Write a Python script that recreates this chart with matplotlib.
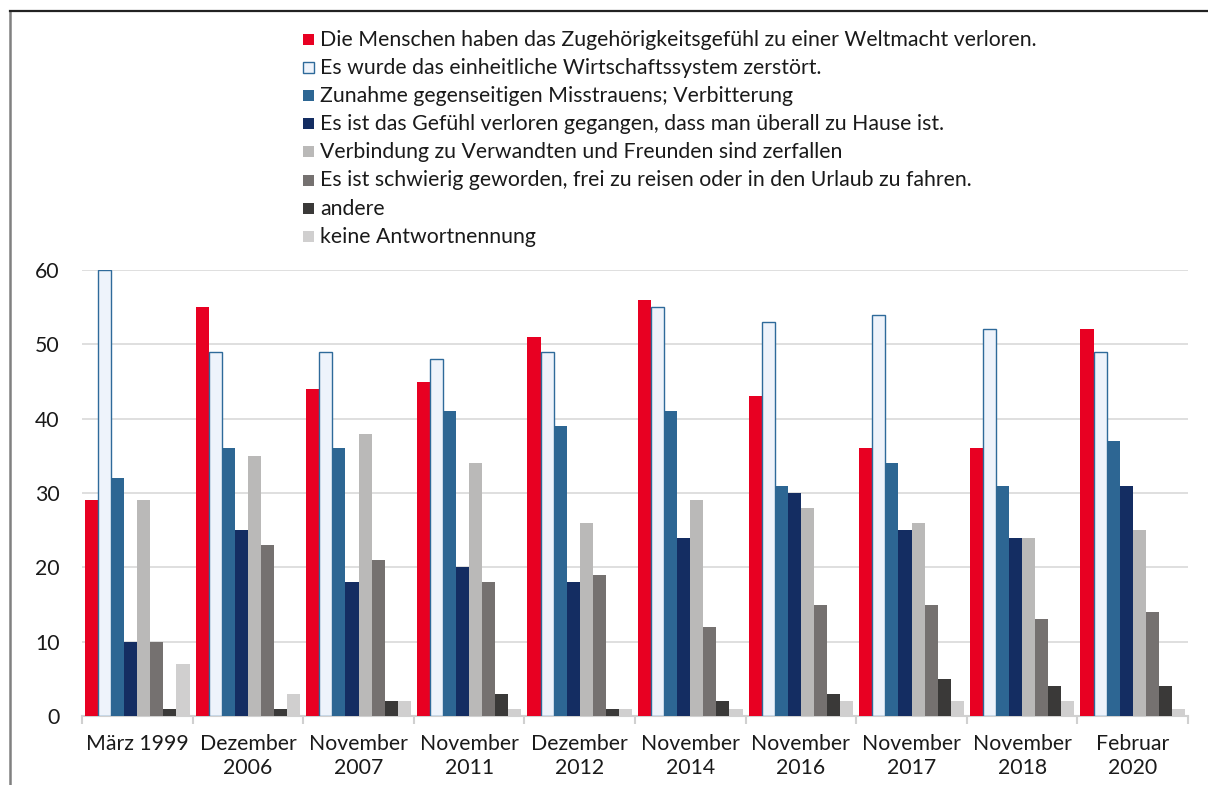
import numpy as np
import matplotlib
matplotlib.use("Agg")
import matplotlib.pyplot as plt
from matplotlib.patches import Rectangle
from matplotlib.lines import Line2D

plt.rcParams['font.family'] = ['Lato', 'DejaVu Sans']

categories = ["März 1999", "Dezember\n2006", "November\n2007", "November\n2011",
              "Dezember\n2012", "November\n2014", "November\n2016", "November\n2017",
              "November\n2018", "Februar\n2020"]

series_labels = [
    "Die Menschen haben das Zugehörigkeitsgefühl zu einer Weltmacht verloren.",
    "Es wurde das einheitliche Wirtschaftssystem zerstört.",
    "Zunahme gegenseitigen Misstrauens; Verbitterung",
    "Es ist das Gefühl verloren gegangen, dass man überall zu Hause ist.",
    "Verbindung zu Verwandten und Freunden sind zerfallen",
    "Es ist schwierig geworden, frei zu reisen oder in den Urlaub zu fahren.",
    "andere",
    "keine Antwortnennung",
]

weltmacht = [29, 55, 44, 45, 51, 56, 43, 36, 36, 52]
wirtschaft = [60, 49, 49, 48, 49, 55, 53, 54, 52, 49]
misstrauen = [32, 36, 36, 41, 39, 41, 31, 34, 31, 37]
zuhause = [10, 25, 18, 20, 18, 24, 30, 25, 24, 31]
verwandte = [29, 35, 38, 34, 26, 29, 28, 26, 24, 25]
reisen = [10, 23, 21, 18, 19, 12, 15, 15, 13, 14]
andere = [1, 1, 2, 3, 1, 2, 3, 5, 4, 4]
keine = [7, 3, 2, 1, 1, 1, 2, 2, 2, 1]

series = [weltmacht, wirtschaft, misstrauen, zuhause, verwandte, reisen, andere, keine]
fills = ["#E80022", "#EEF3FB", "#2D6693", "#142D62", "#BAB9B8", "#757170", "#3A3938", "#D0CFCF"]
edges = ["#E80022", "#2E6A9A", "#2D6693", "#142D62", "#BAB9B8", "#757170", "#3A3938", "#D0CFCF"]

fs = 15.3

fig = plt.figure(figsize=(12.08, 7.85), dpi=100)
ax = fig.add_axes([82 / 1208, 1 - 716 / 785, (1188 - 82) / 1208, (716 - 270) / 785])

x = np.arange(len(categories))
w = 0.118
for i, vals in enumerate(series):
    lw = 1.0 if i == 1 else 0
    ax.bar(x + (i - 3.5) * w, vals, width=w, color=fills[i], edgecolor=edges[i],
           linewidth=lw, zorder=3)

ax.set_xlim(-0.5, len(categories) - 0.5)
ax.set_ylim(0, 60)
ax.set_yticks(range(0, 61, 10))
ax.yaxis.grid(True, color="#D9D9D9", linewidth=1.2, zorder=0)
for s in ["top", "right", "left"]:
    ax.spines[s].set_visible(False)
ax.spines["bottom"].set_color("#D0D0D0")
ax.spines["bottom"].set_linewidth(1.5)
ax.set_xticks(x)
ax.set_xticklabels(categories, fontsize=fs, color="#1a1a1a", linespacing=1.25)
ax.set_xticks(np.arange(-0.5, len(categories), 1), minor=True)
ax.tick_params(axis="x", which="major", length=0, pad=13)
ax.tick_params(axis="x", which="minor", length=6, color="#D0D0D0", width=1.5)
ax.tick_params(axis="y", length=0, pad=16, labelsize=fs, labelcolor="#1a1a1a")

# legend drawn by hand in pixel positions
y0 = 40
for i, lab in enumerate(series_labels):
    yc = y0 + i * 28.1
    lw = 1.0 if i == 1 else 0
    fig.patches.append(Rectangle((303 / 1208, 1 - (yc + 5) / 785), 11 / 1208, 11 / 785,
                                 transform=fig.transFigure, facecolor=fills[i],
                                 edgecolor=edges[i], linewidth=lw))
    fig.text(320 / 1208, 1 - yc / 785, lab, fontsize=fs, color="#1a1a1a",
             va="center", ha="left")

# outer frame lines
fig.add_artist(Line2D([10 / 1208, 10 / 1208], [0, 1 - 11 / 785], transform=fig.transFigure,
                      color="#808080", linewidth=1.8))
fig.add_artist(Line2D([10 / 1208, 1], [1 - 11 / 785, 1 - 11 / 785], transform=fig.transFigure,
                      color="#222222", linewidth=1.6))

fig.savefig("out.png", dpi=100)
